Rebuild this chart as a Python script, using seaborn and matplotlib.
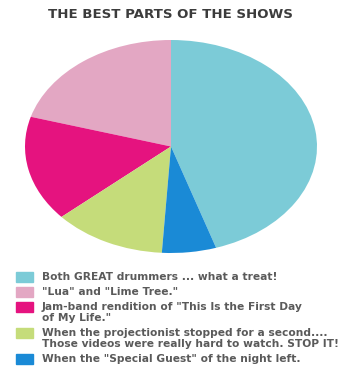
import matplotlib
matplotlib.use('Agg')
import matplotlib.pyplot as plt
from matplotlib.patches import Rectangle
import seaborn as sns

# data, in legend order
labels = [
    'Both GREAT drummers ... what a treat!',
    '"Lua" and "Lime Tree."',
    'Jam-band rendition of "This Is the First Day\nof My Life."',
    'When the projectionist stopped for a second....\nThose videos were really hard to watch. STOP IT!',
    'When the "Special Guest" of the night left.',
]
shares = [45, 20.5, 16, 12.5, 6]
colors = ['#7ccbd7', '#e3a7c3', '#e5137f', '#c5dc7a', '#1a8ad6']

sns.set_theme(style='white')
plt.rcParams['font.family'] = ['DejaVu Sans']

W, H = 360, 375
fig = plt.figure(figsize=(W / 100, H / 100), dpi=100)
fig.patch.set_facecolor('white')

fig.text(170 / W, 1 - 15 / H, 'THE BEST PARTS OF THE SHOWS', ha='center', va='center',
         fontsize=9.6, fontweight='bold', color='#3c3c3c')

# pie, squashed into an ellipse
ax = fig.add_axes([25 / W, 1 - 253 / H, 292 / W, 213 / H])
start = 90 - 360 * shares[0] / sum(shares)
ax.pie(shares, colors=colors, startangle=start, counterclock=True,
       wedgeprops=dict(linewidth=0))
ax.set_aspect('auto')
ax.set_xlim(-1, 1)
ax.set_ylim(-1, 1)
ax.axis('off')

# legend
y = 277
for lab, col in zip(labels, colors):
    fig.patches.append(Rectangle((16 / W, 1 - (y + 5) / H), 17 / W, 10 / H,
                                 transform=fig.transFigure, color=col, figure=fig))
    lines = lab.split('\n')
    for i, line in enumerate(lines):
        fig.text(42 / W, 1 - (y + 11 * i) / H, line, ha='left', va='center',
                 fontsize=7.7, fontweight='bold', color='#5a5a5a')
    y += 11 * (len(lines) - 1) + 15

fig.savefig('out.png', dpi=100)
